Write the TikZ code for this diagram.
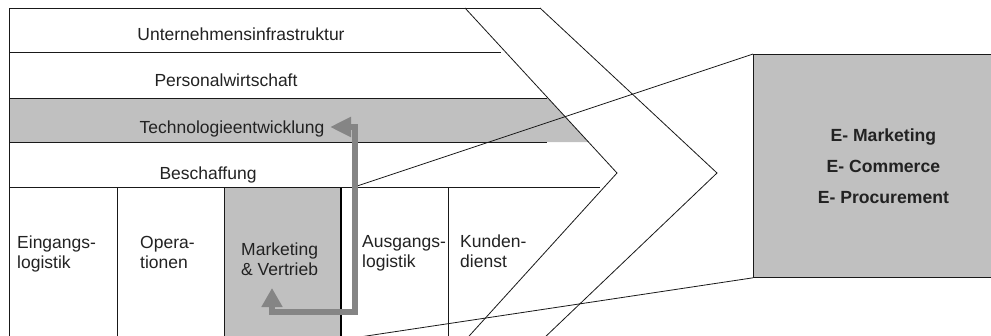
\documentclass[tikz,border=0pt]{standalone}
\usepackage{fontspec}
\setmainfont{Liberation Sans}
\usetikzlibrary{arrows.meta}
\definecolor{boxgray}{HTML}{C0C0C0}
\definecolor{arrowgray}{HTML}{858585}
\definecolor{txtcol}{HTML}{222222}
\begin{document}
\begin{tikzpicture}[x=1pt,y=-1pt,
  rule/.style={draw=black!90, line width=0.8pt},
  lbl/.style={inner sep=0pt, font=\fontsize{17.5}{20}\selectfont, text=txtcol},
  elbl/.style={inner sep=0pt, align=center, font=\fontsize{17.6}{31}\selectfont\bfseries, text=txtcol},
  flow/.style={draw=arrowgray, line width=5.5pt, line join=miter}
]
\useasboundingbox (0,0) rectangle (991,335);
\clip (0,0) rectangle (991,335);
\fill[white] (0,0) rectangle (991,335);

% grey fill of Technologieentwicklung row
\fill[boxgray] (9,98) -- (548,98) -- (589,142) -- (9,142) -- cycle;

% Marketing & Vertrieb box
\node[draw=black!90, line width=0.8pt, fill=boxgray, minimum width=116pt, minimum height=160pt,
      anchor=north west, inner sep=0pt] (mvbox) at (224,187) {};
\draw[black, line width=2pt] (mvbox.north east) -- (mvbox.south east);

% right E-box
\node[draw=black!90, line width=0.8pt, fill=boxgray, minimum width=260pt, minimum height=223pt,
      anchor=north west, inner sep=0pt] (ebox) at (753,54) {};

% row lines
\draw[rule] (9,8) -- (540,8);
\draw[rule] (9,8) -- (9,340);
\draw[rule] (9,52) -- (501,52);
\draw[rule] (9,98) -- (547,98);
\draw[rule] (9,142) -- (547,142);
\draw[rule] (9,187) -- (600,187);
\draw[rule] (117,187) -- (117,340);
\draw[rule] (448,187) -- (448,340);

% chevrons
\draw[rule] (465,8) -- (617,173) -- (465.5,340);
\draw[rule] (540,8) -- (717,173) -- (542,340);

% connecting lines to E-box
\coordinate (bt) at (357,186);
\coordinate (bb) at (353,338);
\draw[rule] (bt) -- (ebox.north west);
\draw[rule] (bb) -- (ebox.south west);

% row labels
\node[lbl, anchor=base] (l1) at (241,40) {Unternehmensinfrastruktur};
\node[lbl, anchor=base] (l2) at (226,86) {Personalwirtschaft};
\node[lbl, anchor=base] (l3) at (232,133) {Technologieentwicklung};
\node[lbl, anchor=base] (l4) at (208,179) {Beschaffung};

% column labels
\node[lbl, anchor=base west] (c1a) at (17,248) {Eingangs-};
\node[lbl, anchor=base west] (c1b) at (17,268) {logistik};
\node[lbl, anchor=base west] (c2a) at (140,248) {Opera-};
\node[lbl, anchor=base west] (c2b) at (140,268) {tionen};
\node[lbl, anchor=base west] (c3a) at (241,255) {Marketing};
\node[lbl, anchor=base west] (c3b) at (241,275) {\&~Vertrieb};
\node[lbl, anchor=base west] (c4a) at (362,247) {Ausgangs-};
\node[lbl, anchor=base west] (c4b) at (362,267) {logistik};
\node[lbl, anchor=base west] (c5a) at (460,247) {Kunden-};
\node[lbl, anchor=base west] (c5b) at (460,267) {dienst};

% E-box text
\node[elbl] (etext) at (ebox.center) {E- Marketing\\E- Commerce\\E- Procurement};

% grey double arrow
\coordinate (aup) at (272,288);
\coordinate (aleft) at (330,127);
\draw[flow, {Triangle[length=19pt,width=20pt]}-{Triangle[length=21pt,width=19pt]}]
  (aup) -- (272,312) -- (355,312) -- (355,127) -- (aleft);
\end{tikzpicture}
\end{document}
